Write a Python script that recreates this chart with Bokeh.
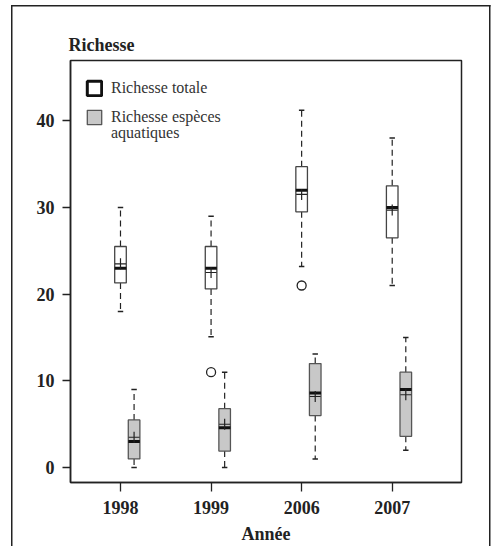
import numpy as np
from bokeh.plotting import figure
from bokeh.models import (Range1d, FixedTicker, Legend, LegendItem, ColumnDataSource)
from bokeh.embed import file_html
from bokeh.resources import INLINE

# ---- data ----
years = ["1998", "1999", "2006", "2007"]

tot_low = [18.0, 15.1, 23.2, 21.0]
tot_q1 = [21.3, 20.6, 29.5, 26.5]
tot_med = [23.0, 23.0, 32.0, 30.0]
tot_q3 = [25.5, 25.5, 34.7, 32.5]
tot_high = [30.0, 29.0, 41.2, 38.0]
tot_mean = [23.5, 22.5, 31.5, 29.7]
tot_out_year = ["1999", "2006"]
tot_out_val = [11.0, 21.0]

aq_low = [0.0, 0.0, 1.0, 2.0]
aq_q1 = [1.0, 1.9, 6.0, 3.6]
aq_med = [3.0, 4.6, 8.6, 9.0]
aq_q3 = [5.5, 6.8, 12.0, 11.0]
aq_high = [9.0, 11.0, 13.1, 15.0]
aq_mean = [3.5, 5.0, 8.2, 8.4]

y_ticks = [0, 10, 20, 30, 40]

# ---- styling ----
FONT = "Liberation Serif"
INK = "#222222"
GRAY = "#c8c8c8"
BOX_W = 0.128
CAP_W = 0.06
DODGE = 0.15

pos = np.arange(1, len(years) + 1, dtype=float)

p = figure(width=495, height=546, output_backend="svg", toolbar_location=None,
           x_range=Range1d(0.448, 4.765), y_range=Range1d(-1.72, 46.95),
           min_border_left=70, min_border_right=34, min_border_top=60, min_border_bottom=61)
p.background_fill_color = "white"
p.border_fill_color = None
# outer page frame drawn as CSS background lines behind the transparent canvas
p.styles = {
    "background-color": "white",
    "background-image": "linear-gradient(#222,#222), linear-gradient(#222,#222), linear-gradient(#222,#222)",
    "background-size": "1.5px 100%, 479.5px 1.5px, 1.5px 100%",
    "background-position": "11px 4.5px, 11px 4.5px, 489px 4.5px",
    "background-repeat": "no-repeat",
}
p.grid.visible = False
p.outline_line_color = INK
p.outline_line_width = 1.5
p.outline_line_alpha = 1.0

p.title.text = "Richesse"
p.title.text_font = FONT
p.title.text_font_size = "18px"
p.title.text_font_style = "bold"
p.title.text_color = INK
p.title.align = "left"
p.title.offset = -2
p.title.standoff = 11

# axes
p.xaxis.ticker = FixedTicker(ticks=list(pos))
p.xaxis.major_label_overrides = {float(v): y for v, y in zip(pos, years)}
p.xaxis.major_label_overrides.update({int(v): y for v, y in zip(pos, years)})
p.yaxis.ticker = FixedTicker(ticks=y_ticks)
p.xaxis.axis_label = "Année"
for ax in (p.xaxis[0], p.yaxis[0]):
    ax.minor_tick_line_color = None
    ax.major_tick_in = 0
    ax.major_tick_line_color = INK
    ax.major_tick_line_width = 1.3
    ax.axis_line_color = INK
    ax.axis_line_width = 1.5
    ax.major_label_text_font = FONT
    ax.major_label_text_font_size = "18px"
    ax.major_label_text_font_style = "bold"
    ax.major_label_text_color = INK
    ax.axis_label_text_font = FONT
    ax.axis_label_text_font_size = "18px"
    ax.axis_label_text_font_style = "bold"
    ax.axis_label_text_color = INK
p.xaxis.major_tick_out = 9
p.xaxis.major_label_standoff = 9
p.xaxis.axis_label_standoff = 7
p.yaxis.major_tick_out = 8
p.yaxis.major_label_standoff = 8


def draw_boxes(x, low, q1, med, q3, high, mean, fill, line):
    src = ColumnDataSource(dict(x=x, low=low, q1=q1, med=med, q3=q3, high=high, mean=mean,
                                xl=x - BOX_W / 2, xr=x + BOX_W / 2,
                                cl=x - CAP_W / 2, cr=x + CAP_W / 2))
    # whiskers
    p.segment(x0="x", y0="q3", x1="x", y1="high", source=src, line_color=INK,
              line_width=1.2, line_dash="6 4")
    p.segment(x0="x", y0="q1", x1="x", y1="low", source=src, line_color=INK,
              line_width=1.2, line_dash="6 4")
    # caps
    p.segment(x0="cl", y0="high", x1="cr", y1="high", source=src, line_color=INK, line_width=1.5)
    p.segment(x0="cl", y0="low", x1="cr", y1="low", source=src, line_color=INK, line_width=1.5)
    # box
    box = p.vbar(x="x", width=BOX_W, bottom="q1", top="q3", source=src, fill_color=fill,
                 line_color=line, line_width=1.3)
    # median
    p.segment(x0="xl", y0="med", x1="xr", y1="med", source=src, line_color="#111111",
              line_width=3)
    # mean
    p.scatter(x="x", y="mean", source=src, marker="cross", size=11, line_color=INK,
              line_width=1.2)
    return src, box


src_tot, box_tot = draw_boxes(pos, tot_low, tot_q1, tot_med, tot_q3, tot_high, tot_mean,
                              "white", "#444444")
src_aq, box_aq = draw_boxes(pos + DODGE, aq_low, aq_q1, aq_med, aq_q3, aq_high, aq_mean,
                            GRAY, "#555555")

out_x = [pos[years.index(y)] for y in tot_out_year]
p.scatter(x=out_x, y=tot_out_val, marker="circle", size=9, fill_color="white",
          line_color=INK, line_width=1.3)

# legend swatches: a hidden heavy-bordered copy of the total boxes, and the aquatic boxes
leg_tot = p.vbar(x="x", width=BOX_W, bottom="q1", top="q3", source=src_tot,
                 fill_color="white", line_color="#111111", line_width=3, visible=False)
leg_blank = p.vbar(x="x", width=BOX_W, bottom="q1", top="q3", source=src_aq,
                   fill_alpha=0, line_alpha=0, visible=False)


def style_legend(lg):
    lg.label_text_font = FONT
    lg.label_text_font_size = "16px"
    lg.label_text_color = "#333333"
    lg.border_line_color = None
    lg.background_fill_alpha = 0
    lg.inactive_fill_alpha = 0
    lg.margin = 0
    lg.padding = 0
    lg.spacing = 9
    lg.glyph_width = 18
    lg.glyph_height = 18
    lg.label_standoff = 8
    lg.label_height = 20


legend = Legend(items=[LegendItem(label="Richesse totale", renderers=[leg_tot]),
                       LegendItem(label="Richesse espèces", renderers=[box_aq])],
                location=(15, 355))
style_legend(legend)
p.add_layout(legend)

# second line of the aquatic label (no swatch)
legend2 = Legend(items=[LegendItem(label="aquatiques", renderers=[leg_blank])],
                 location=(15, 339))
style_legend(legend2)
p.add_layout(legend2)

open("out.html", "w").write(file_html(p, INLINE))
